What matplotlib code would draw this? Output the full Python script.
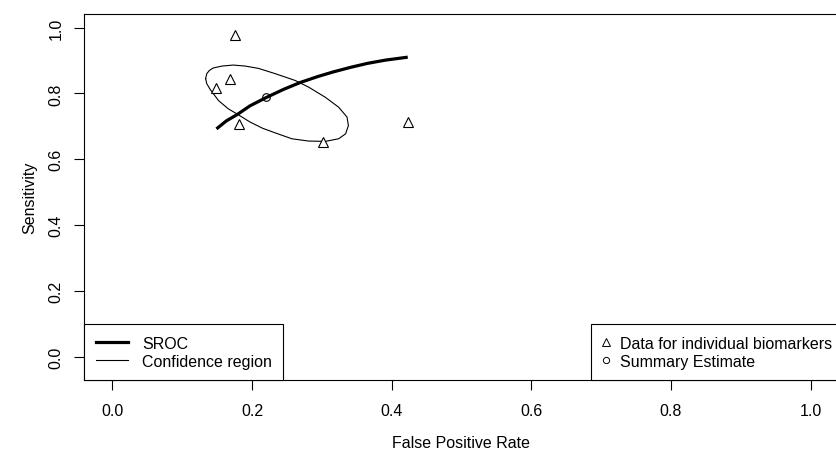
import numpy as np
import matplotlib
matplotlib.use('Agg')
import matplotlib.pyplot as plt
from matplotlib.lines import Line2D

plt.rcParams['font.family'] = ['Liberation Sans', 'DejaVu Sans']

# individual biomarkers (false positive rate, sensitivity)
study_fpr = [0.175, 0.168, 0.149, 0.182, 0.301, 0.424]
study_sens = [0.977, 0.843, 0.817, 0.708, 0.653, 0.714]

# summary estimate
summary_fpr = [0.220]
summary_sens = [0.788]

# SROC curve
sroc_fpr = [0.149, 0.163, 0.179, 0.197, 0.220, 0.245, 0.269, 0.294,
            0.316, 0.341, 0.365, 0.391, 0.423]
sroc_sens = [0.692, 0.716, 0.736, 0.762, 0.787, 0.812, 0.833, 0.851,
             0.865, 0.879, 0.891, 0.901, 0.910]

# confidence region outline
conf_fpr = [0.1335, 0.1352, 0.139, 0.1443, 0.157, 0.173, 0.190, 0.209, 0.233,
            0.262, 0.281, 0.305, 0.324, 0.336, 0.338, 0.334, 0.324, 0.305,
            0.281, 0.257, 0.233, 0.215, 0.197, 0.178, 0.166, 0.152, 0.140,
            0.135, 0.1335]
conf_sens = [0.845, 0.860, 0.870, 0.877, 0.883, 0.886, 0.883, 0.876, 0.860,
             0.839, 0.819, 0.788, 0.758, 0.728, 0.702, 0.677, 0.662, 0.654,
             0.655, 0.662, 0.680, 0.694, 0.713, 0.738, 0.753, 0.778, 0.812,
             0.830, 0.845]

W, H = 837, 456
fig = plt.figure(figsize=(W / 100, H / 100), dpi=100)
ax = fig.add_axes([84.5 / W, (H - 381) / H, (838.5 - 84.5) / W, (381 - 15) / H])

ax.plot(sroc_fpr, sroc_sens, color='black', lw=2.3, solid_capstyle='butt')
ax.plot(conf_fpr, conf_sens, color='black', lw=0.8)
ax.plot(study_fpr, study_sens, ls='none', marker='^', ms=7.5, mfc='white',
        mec='black', mew=0.8)
ax.plot(summary_fpr, summary_sens, ls='none', marker='o', ms=5.5, mfc='none',
        mec='black', mew=0.8)

ax.set_xlim(-0.04, 1.04)
ax.set_ylim(-0.0712, 1.0412)
ticks = [0.0, 0.2, 0.4, 0.6, 0.8, 1.0]
ax.set_xticks(ticks)
ax.set_yticks(ticks)
ax.set_xticklabels(['%.1f' % t for t in ticks])
ax.set_yticklabels(['%.1f' % t for t in ticks], rotation=90, va='center')
ax.tick_params(direction='out', length=7.2, width=0.8, labelsize=11.5,
               colors='black')
ax.tick_params(axis='x', pad=9.5)
ax.tick_params(axis='y', pad=8)
for s in ax.spines.values():
    s.set_linewidth(0.8)

ax.set_xlabel('False Positive Rate', fontsize=11.5, labelpad=12)
ax.set_ylabel('Sensitivity', fontsize=11.5, labelpad=8)

# legends
h1 = [Line2D([], [], color='black', lw=2.3),
      Line2D([], [], color='black', lw=0.8)]
leg1 = ax.legend(h1, ['SROC', 'Confidence region'], loc='lower left',
                 borderaxespad=0, fancybox=False, edgecolor='black',
                 fontsize=11.5, handlelength=2.05, handletextpad=0.85,
                 borderpad=0.7, labelspacing=0.2, framealpha=1)
leg1.get_frame().set_linewidth(0.8)
ax.add_artist(leg1)

h2 = [Line2D([], [], ls='none', marker='^', ms=5.5, mfc='white', mec='black', mew=0.7),
      Line2D([], [], ls='none', marker='o', ms=4.5, mfc='none', mec='black', mew=0.7)]
leg2 = ax.legend(h2, ['Data for individual biomarkers', 'Summary Estimate'],
                 loc='lower right', bbox_to_anchor=(1 + 5 / 754, 0),
                 borderaxespad=0, fancybox=False,
                 edgecolor='black', fontsize=11.5, handlelength=0.55,
                 handletextpad=0.6, borderpad=0.7, labelspacing=0.2,
                 framealpha=1)
leg2.get_frame().set_linewidth(0.8)

fig.savefig('out.png', dpi=100)
